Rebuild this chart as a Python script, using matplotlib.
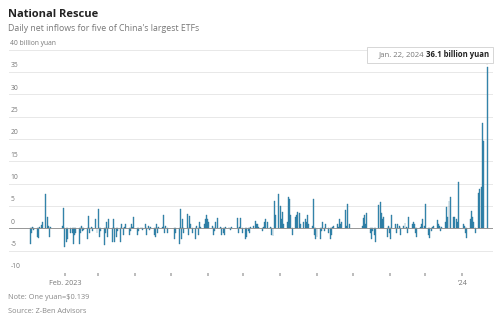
import matplotlib
matplotlib.use("Agg")
import matplotlib.pyplot as plt
import numpy as np
import pandas as pd

# daily net inflows, billion yuan, by month (trading days only)
jan23 = [-3.4, -1.0, 0.3, -0.3, -1.9, -2.2, 0.3, 0.8, 1.5, 7.7, 2.6, 0.5, -2.0, 0.3, 0.5, 4.6]
feb23 = [-4.1, -3.0, -2.5, -1.0, -1.0, -3.5, -1.5, -1.0, -3.5, -1.0, 0.5, -0.5, -0.3, -2.5, 2.7,
         -1.0, 0.3, -0.5, 2.0, -1.0]
mar23 = [4.3, -2.0, -0.5, -3.7, -1.0, 1.5, -2.0, 2.0, -3.0, 2.0, -3.0, -2.0, -0.5, -3.0, 1.0,
         -1.5, 0.3, 1.0, -1.5, -0.5, 1.0, 0.3, 2.5]
apr23 = [-1.5, -0.5, 0.3, -0.3, 1.0, -1.5, 0.5, -0.3, 0.3, -1.5, -2.0, 1.0, -1.0, 0.3, 0.3,
         3.0, -1.0, 0.5, -1.0]
may23 = [-2.5, -1.0, -3.5, 4.3, -2.5, 2.0, -1.0, 3.3, -1.5, 2.8, 1.0, -1.0, -2.5, 0.5, -1.5,
         1.5, 0.3, 1.0, 2.0, 3.0]
jun23 = [2.0, 1.5, 0.5, -1.5, -0.5, 1.5, 2.2, 0.3, -1.5, -1.0, -1.5, 0.3, 0.3, -0.3, 0.2,
         2.3, -1.0, 0.3, 2.4, -1.0]
jul23 = [-2.5, -2.0, -0.5, -1.0, 0.3, 0.5, 1.7, 1.0, 1.0, 0.3, -0.5, 0.3, 1.5, 2.0, 1.5,
         0.3, -1.5, -1.7, 6.1, 3.0, 7.7]
aug23 = [5.0, 2.0, 3.7, 1.0, 1.5, 7.1, 6.5, 3.0, -1.5, 2.5, 3.0, 3.6, 3.5, 1.0, 1.5, 2.0,
         1.5, 3.0, 1.0, 0.5, 6.6, -1.5, -2.5]
sep23 = [-2.0, -2.3, -0.5, 1.5, -0.5, 1.0, -1.0, -2.5, -1.5, 0.3, 0.5, 1.0, 0.3, 2.0, 1.0,
         1.5, 4.1, 0.5, 5.5, 1.0]
oct23 = [0.5, 2.2, 3.0, 1.0, 3.5, -1.0, -2.5, -0.5, -1.5, -3.0, 5.2, 5.8, 3.5, 2.0, 2.5, -2.0, 0.5]
nov23 = [-1.0, -2.4, 3.0, 1.0, -1.0, 1.0, 0.5, -1.5, 0.5, 1.1, 0.3, -1.0, 2.5, 1.0, 1.5, 1.0,
         -1.0, -2.0, 0.3, 1.0, 2.0, 0.5]
dec23 = [5.4, -1.5, -2.2, -0.5, 0.3, 0.5, 1.9, 1.0, 0.5, -0.5, 0.3, 1.5, 4.7, 2.5, 6.1, 7.1,
         2.5, 2.5, 2.0, 1.5, 10.3]
jan24 = [1.0, 0.5, -1.0, -2.2, 2.0, 3.9, 2.5, 1.5, -1.0, 8.0, 8.8, 9.3, 23.5, 19.6, 36.1]

# market closures on weekdays
holidays = ['2023-01-23', '2023-01-24', '2023-01-25', '2023-01-26', '2023-01-27',
            '2023-04-05', '2023-05-01', '2023-05-02', '2023-05-03', '2023-06-22', '2023-06-23',
            '2023-09-29', '2023-10-02', '2023-10-03', '2023-10-04', '2023-10-05', '2023-10-06',
            '2024-01-01']

values = jan23 + feb23 + mar23 + apr23 + may23 + jun23 + jul23 + aug23 + sep23 + oct23 + nov23 + dec23 + jan24
days = pd.bdate_range('2023-01-03', '2024-01-22')
days = days[~days.isin(pd.to_datetime(holidays))]
assert len(days) == len(values)

plt.rcParams['font.family'] = ['Open Sans', 'DejaVu Sans']

fig = plt.figure(figsize=(5, 3.21), dpi=100)
ax = fig.add_axes([0.018, 0.1495, 0.968, 0.696])

ax.bar(days, values, width=0.8, color='#3d91ba', edgecolor='#1f6a8e', linewidth=0.25, zorder=3)

ax.set_ylim(-10, 40)
ax.set_xlim(pd.Timestamp('2022-12-16'), pd.Timestamp('2024-01-27'))
for s in ax.spines.values():
    s.set_visible(False)

yticks = np.arange(-10, 41, 5)
ax.set_yticks(yticks)
ax.tick_params(axis='y', length=0, labelleft=False)
for v in yticks:
    ax.axhline(v, color='#e8e8e8', lw=0.7, zorder=1)
    lab = '40 billion yuan' if v == 40 else str(v)
    ax.text(0.003, v + 0.6, lab, transform=ax.get_yaxis_transform(), fontsize=4.9,
            color='#777777', ha='left', va='bottom')
ax.axhline(0, color='#8a8a8a', lw=0.6, zorder=4)

months = pd.date_range('2023-02-01', '2024-01-01', freq='MS')
ax.set_xticks(months)
ax.set_xticklabels(['Feb. 2023'] + [''] * 10 + ["'24"])
ax.tick_params(axis='x', length=2, width=1.2, color='#b0b0b0', labelsize=5.2, labelcolor='#777777', pad=3)

# tooltip for the last day
ax.annotate('', xy=(days[-1], values[-1]), xytext=(days[-1], 40.9), annotation_clip=False,
            arrowprops=dict(arrowstyle='-', color='#bbbbbb', lw=0.6))
date_txt = fig.text(0.978, 0.83, 'Jan. 22, 2024 ', fontsize=5.6, color='#777777', ha='right', va='center')
val_txt = fig.text(0.978, 0.83, '36.1 billion yuan', fontsize=5.6, color='#222222', fontweight='bold',
                   ha='right', va='center')
fig.canvas.draw()
bb = val_txt.get_window_extent().transformed(fig.transFigure.inverted())
date_txt.set_position((bb.x0, 0.83))
fig.patches.append(plt.Rectangle((0.734, 0.804), 0.252, 0.05, transform=fig.transFigure,
                                 facecolor='white', edgecolor='#d0d0d0', lw=0.6, zorder=0))

fig.text(0.016, 0.955, 'National Rescue', fontsize=8, fontweight='bold', color='#222222', va='center')
fig.text(0.016, 0.912, "Daily net inflows for five of China's largest ETFs", fontsize=6.3,
         color='#777777', va='center')
fig.text(0.016, 0.072, 'Note: One yuan=$0.139', fontsize=5.3, color='#888888', va='center')
fig.text(0.016, 0.031, 'Source: Z-Ben Advisors', fontsize=5.3, color='#888888', va='center')

fig.savefig('out.png', dpi=100)
